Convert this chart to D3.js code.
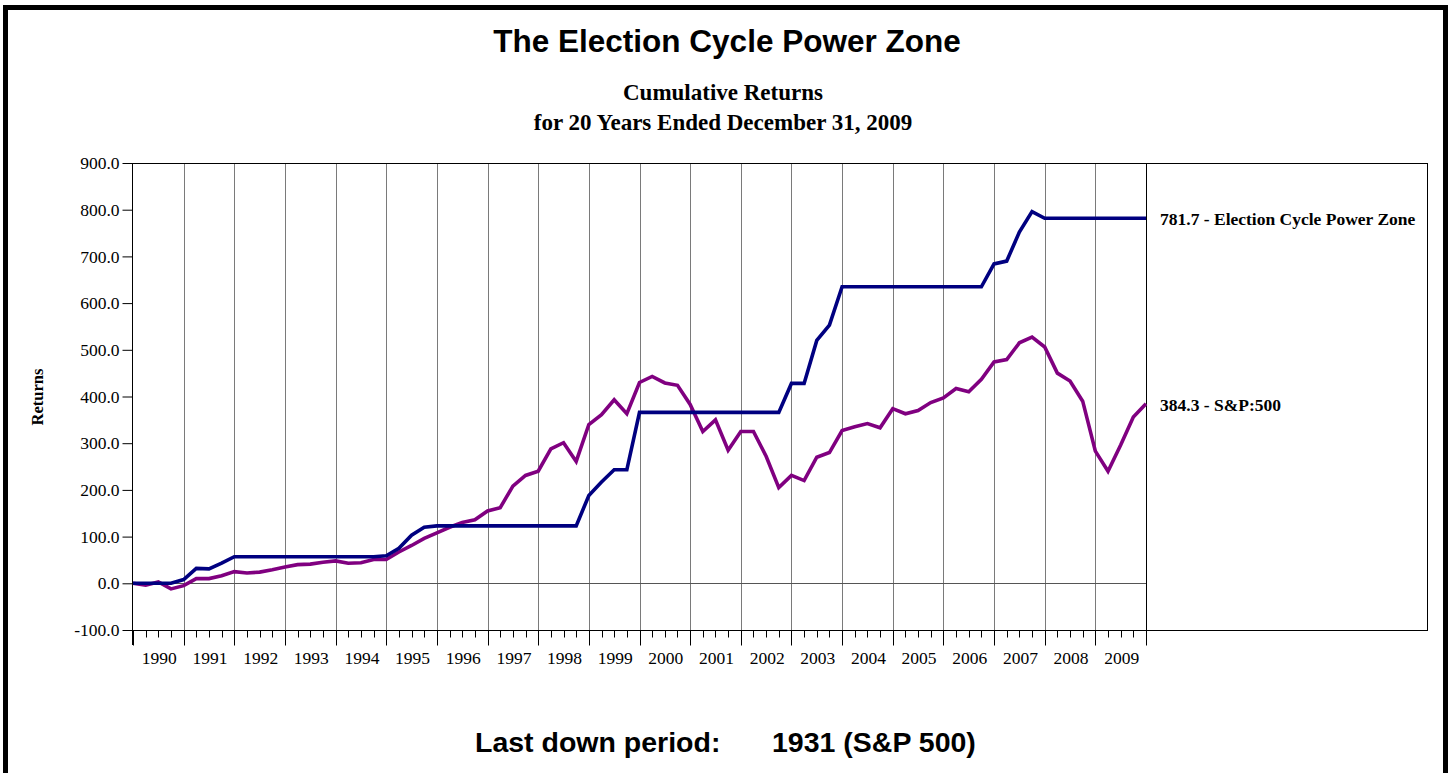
<!DOCTYPE html>
<html>
<head>
<meta charset="utf-8">
<script src="https://cdn.jsdelivr.net/npm/d3@7"></script>
<style>
  html, body { margin: 0; padding: 0; background: #fff; }
  svg { display: block; }
</style>
</head>
<body>
<svg id="chart" width="1452" height="773"></svg>
<script>
// quarterly cumulative returns, end of 1989 (index 0) through Q4 2009 (index 80)
const years = d3.range(1990, 2010);
const yTicks = [-100, 0, 100, 200, 300, 400, 500, 600, 700, 800, 900];

const ecpz = [
  0, 0, 0, 0, 8, 32, 31, 43, 57, 57,
  57, 57, 57, 57, 57, 57, 57, 57, 57, 57,
  59, 75, 103, 120, 123, 123, 123, 123, 123, 123,
  123, 123, 123, 123, 123, 123, 188, 217, 243, 243,
  366, 366, 366, 366, 366, 366, 366, 366, 366, 366,
  366, 366, 428, 428, 520, 553, 635, 635, 635, 635,
  635, 635, 635, 635, 635, 635, 635, 635, 684, 690,
  752, 796, 781.7, 781.7, 781.7, 781.7, 781.7, 781.7, 781.7, 781.7,
  781.7
];

const sp500 = [
  0, -4, 3, -12, -5, 10, 10, 16, 25, 22,
  24, 29, 35, 40, 41, 45, 48, 43, 44, 51,
  51, 67, 81, 96, 108, 120, 130, 136, 155, 162,
  208, 231, 240, 288, 301, 261, 340, 361, 393, 363,
  430, 443, 429, 424, 383, 325, 350, 285, 325, 325,
  272, 205, 231, 220, 270, 280, 327, 335, 342, 333,
  374, 363, 370, 387, 397, 417, 410, 437, 474, 479,
  515, 527, 506, 450, 433, 390, 283, 240, 296, 356,
  384.3
];

const seriesLabels = [
  { name: 'Election Cycle Power Zone', values: ecpz, color: '#000080' },
  { name: 'S&P:500', values: sp500, color: '#800080' }
];

const serif = '"Liberation Serif", "Times New Roman", serif';
const sans = '"Liberation Sans", Arial, Helvetica, sans-serif';
const fmt = (v) => d3.format('.1f')(v).replace('\u2212', '-');

const svg = d3.select('#chart');

const plot = { left: 132, right: 1146, frameRight: 1427, top: 163, bottom: 630 };

const x = d3.scaleLinear().domain([0, 80]).range([133, plot.right]);
const y = d3.scaleLinear().domain([-100, 900]).range([plot.bottom, plot.top]);

// page border
svg.append('rect')
  .attr('x', 5.5).attr('y', 7.5)
  .attr('width', 1440).attr('height', 800)
  .attr('fill', 'none')
  .attr('stroke', '#000')
  .attr('stroke-width', 5);

// titles
svg.append('text')
  .attr('x', 727).attr('y', 52)
  .attr('text-anchor', 'middle')
  .style('font-family', sans).style('font-weight', 'bold').style('font-size', '31.5px')
  .text('The Election Cycle Power Zone');

svg.append('text')
  .attr('x', 723).attr('y', 100)
  .attr('text-anchor', 'middle')
  .style('font-family', serif).style('font-weight', 'bold').style('font-size', '23px')
  .text('Cumulative Returns');

svg.append('text')
  .attr('x', 723).attr('y', 130)
  .attr('text-anchor', 'middle')
  .style('font-family', serif).style('font-weight', 'bold').style('font-size', '23px')
  .text('for 20 Years Ended December 31, 2009');

// year gridlines
const grid = svg.append('g');
grid.selectAll('line')
  .data(years.slice(1))
  .enter()
  .append('line')
  .attr('x1', (d, i) => Math.round(x((i + 1) * 4)) + 0.5)
  .attr('x2', (d, i) => Math.round(x((i + 1) * 4)) + 0.5)
  .attr('y1', plot.top)
  .attr('y2', plot.bottom)
  .attr('stroke', '#7a7a7a')
  .attr('stroke-width', 1);

// zero line
svg.append('line')
  .attr('x1', plot.left).attr('x2', plot.right)
  .attr('y1', Math.round(y(0)) + 0.5).attr('y2', Math.round(y(0)) + 0.5)
  .attr('stroke', '#555').attr('stroke-width', 1);

// frame
svg.append('rect')
  .attr('x', plot.left + 0.5).attr('y', plot.top + 0.5)
  .attr('width', plot.frameRight - plot.left).attr('height', plot.bottom - plot.top)
  .attr('fill', 'none').attr('stroke', '#000').attr('stroke-width', 1);

svg.append('line')
  .attr('x1', plot.right + 0.5).attr('x2', plot.right + 0.5)
  .attr('y1', plot.top).attr('y2', plot.bottom + 15)
  .attr('stroke', '#000').attr('stroke-width', 1);

// y axis
const yAxis = svg.append('g')
  .attr('transform', 'translate(' + (plot.left + 0.5) + ',0)')
  .call(d3.axisLeft(y).tickValues(yTicks).tickFormat(fmt).tickSize(10).tickPadding(3));
yAxis.select('.domain').attr('stroke', '#000').attr('d', 'M0,' + plot.top + 'V' + (plot.bottom + 15));
yAxis.selectAll('text')
  .style('font-family', serif).style('font-size', '17.5px').attr('fill', '#000');
yAxis.selectAll('line').attr('stroke', '#000');

// quarter ticks
const xAxis = svg.append('g')
  .attr('transform', 'translate(0,' + (plot.bottom + 0.5) + ')')
  .call(d3.axisBottom(x).tickValues(d3.range(0, 81)).tickSize(7).tickFormat(''));
xAxis.select('.domain').remove();
xAxis.selectAll('.tick')
  .attr('transform', (d) => 'translate(' + (Math.round(x(d)) + 0.5) + ',0)');
xAxis.selectAll('.tick line')
  .attr('stroke', '#000')
  .attr('y2', (d) => (d % 4 === 0 ? 15 : 7));

// year labels
svg.append('g')
  .selectAll('text')
  .data(years)
  .enter()
  .append('text')
  .attr('x', (d, i) => x(i * 4 + 2) + 1)
  .attr('y', 664)
  .attr('text-anchor', 'middle')
  .style('font-family', serif).style('font-size', '17.5px')
  .text((d) => d);

// y title
svg.append('text')
  .attr('transform', 'translate(43,397) rotate(-90)')
  .attr('text-anchor', 'middle')
  .style('font-family', serif).style('font-weight', 'bold').style('font-size', '16.5px')
  .text('Returns');

// lines
const line = d3.line()
  .x((d, i) => x(i))
  .y((d) => y(d));

svg.append('g')
  .selectAll('path')
  .data(seriesLabels.slice().reverse())
  .enter()
  .append('path')
  .attr('d', (d) => line(d.values))
  .attr('fill', 'none')
  .attr('stroke', (d) => d.color)
  .attr('stroke-width', 3.6)
  .attr('stroke-linejoin', 'miter');

// end labels
svg.append('g')
  .selectAll('text')
  .data(seriesLabels)
  .enter()
  .append('text')
  .attr('x', 1160)
  .attr('y', (d) => y(d.values[d.values.length - 1]) + 7)
  .style('font-family', serif).style('font-weight', 'bold').style('font-size', '17.5px')
  .text((d) => fmt(d.values[d.values.length - 1]) + ' - ' + d.name);

// footer
svg.append('text')
  .attr('x', 475).attr('y', 752)
  .style('font-family', sans).style('font-weight', 'bold').style('font-size', '28.5px')
  .text('Last down period:');
svg.append('text')
  .attr('x', 772).attr('y', 752)
  .style('font-family', sans).style('font-weight', 'bold').style('font-size', '28.5px')
  .text('1931 (S&P 500)');
</script>
</body>
</html>
